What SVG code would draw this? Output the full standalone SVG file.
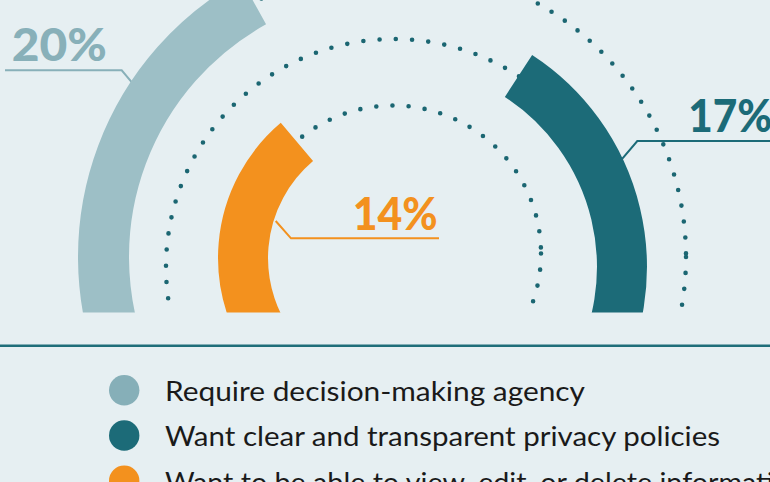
<svg xmlns="http://www.w3.org/2000/svg" width="770" height="482" viewBox="0 0 770 482">
<defs>
<style>
.dots{fill:none;stroke:#1b6672;stroke-width:4.6;stroke-linecap:round}
.band{fill:none;stroke-linecap:butt}
.pct{font-family:Lato,"Liberation Sans",sans-serif;font-weight:900;font-size:45px}
.leg{font-family:Lato,"Liberation Sans",sans-serif;font-size:26px;fill:#1a1a1a}
.lead{fill:none;stroke-width:2}
</style>
<clipPath id="clipDots"><rect x="0" y="-10" width="770" height="317.5"/></clipPath>
<clipPath id="clipBands"><rect x="0" y="-10" width="770" height="322.5"/></clipPath>
</defs>
<rect width="770" height="482" fill="#e6eff2"/>
<g id="dotted-rings" clip-path="url(#clipDots)">
<circle cx="395" cy="257" r="291" class="dots" stroke-dasharray="0 16"/>
<circle cx="394" cy="267" r="228" class="dots" stroke-dasharray="0 16.3"/>
<circle cx="393" cy="253.5" r="148" class="dots" stroke-dasharray="0 16.2"/>
</g>
<g id="connectors">
<polyline class="lead" stroke="#88b0b9" points="5,70.3 121.7,70.3 132.7,83.3"/>
<polyline class="lead" stroke="#1c6b78" points="621.7,159.3 637.3,141 772,141"/>
<polyline class="lead" stroke="#f3911e" points="275.7,221 291,238.3 439,238.3"/>
</g>
<g id="ring-20">
<path class="band" clip-path="url(#clipBands)" d="M121.1,356.7 A291.5 291.5 0 0 1 253.7,2" stroke="#9dbfc6" stroke-width="51"/>
<text class="pct" x="11.7" y="61" fill="#88b0b9" textLength="95" lengthAdjust="spacingAndGlyphs">20%</text>
</g>
<g id="ring-17">
<path class="band" clip-path="url(#clipBands)" d="M518.5,76 A228 228 0 0 1 591.4,381" stroke="#1c6b78" stroke-width="50"/>
<text class="pct" x="688.3" y="131.7" fill="#1c6b78" textLength="84" lengthAdjust="spacingAndGlyphs">17%</text>
</g>
<g id="ring-14">
<path class="band" clip-path="url(#clipBands)" d="M278.6,355.7 A152 152 0 0 1 296.9,141.9" stroke="#f3911e" stroke-width="50"/>
<text class="pct" x="352.7" y="230" fill="#f3911e" textLength="85" lengthAdjust="spacingAndGlyphs">14%</text>
</g>
<line id="divider" x1="0" y1="345.7" x2="770" y2="345.7" stroke="#1f6e7a" stroke-width="2.5"/>
<g id="legend-1">
<circle cx="124.2" cy="390.3" r="15.2" fill="#86afb8"/>
<text class="leg" x="165" y="401" textLength="420" lengthAdjust="spacingAndGlyphs">Require decision-making agency</text>
</g>
<g id="legend-2">
<circle cx="124.2" cy="435.5" r="15.2" fill="#1c6b78"/>
<text class="leg" x="165" y="446.3" textLength="555" lengthAdjust="spacingAndGlyphs">Want clear and transparent privacy policies</text>
</g>
<g id="legend-3">
<circle cx="124.2" cy="480.7" r="15.2" fill="#f3911e"/>
<text class="leg" x="165" y="491.5" textLength="641" lengthAdjust="spacingAndGlyphs">Want to be able to view, edit, or delete information</text>
</g>
</svg>
